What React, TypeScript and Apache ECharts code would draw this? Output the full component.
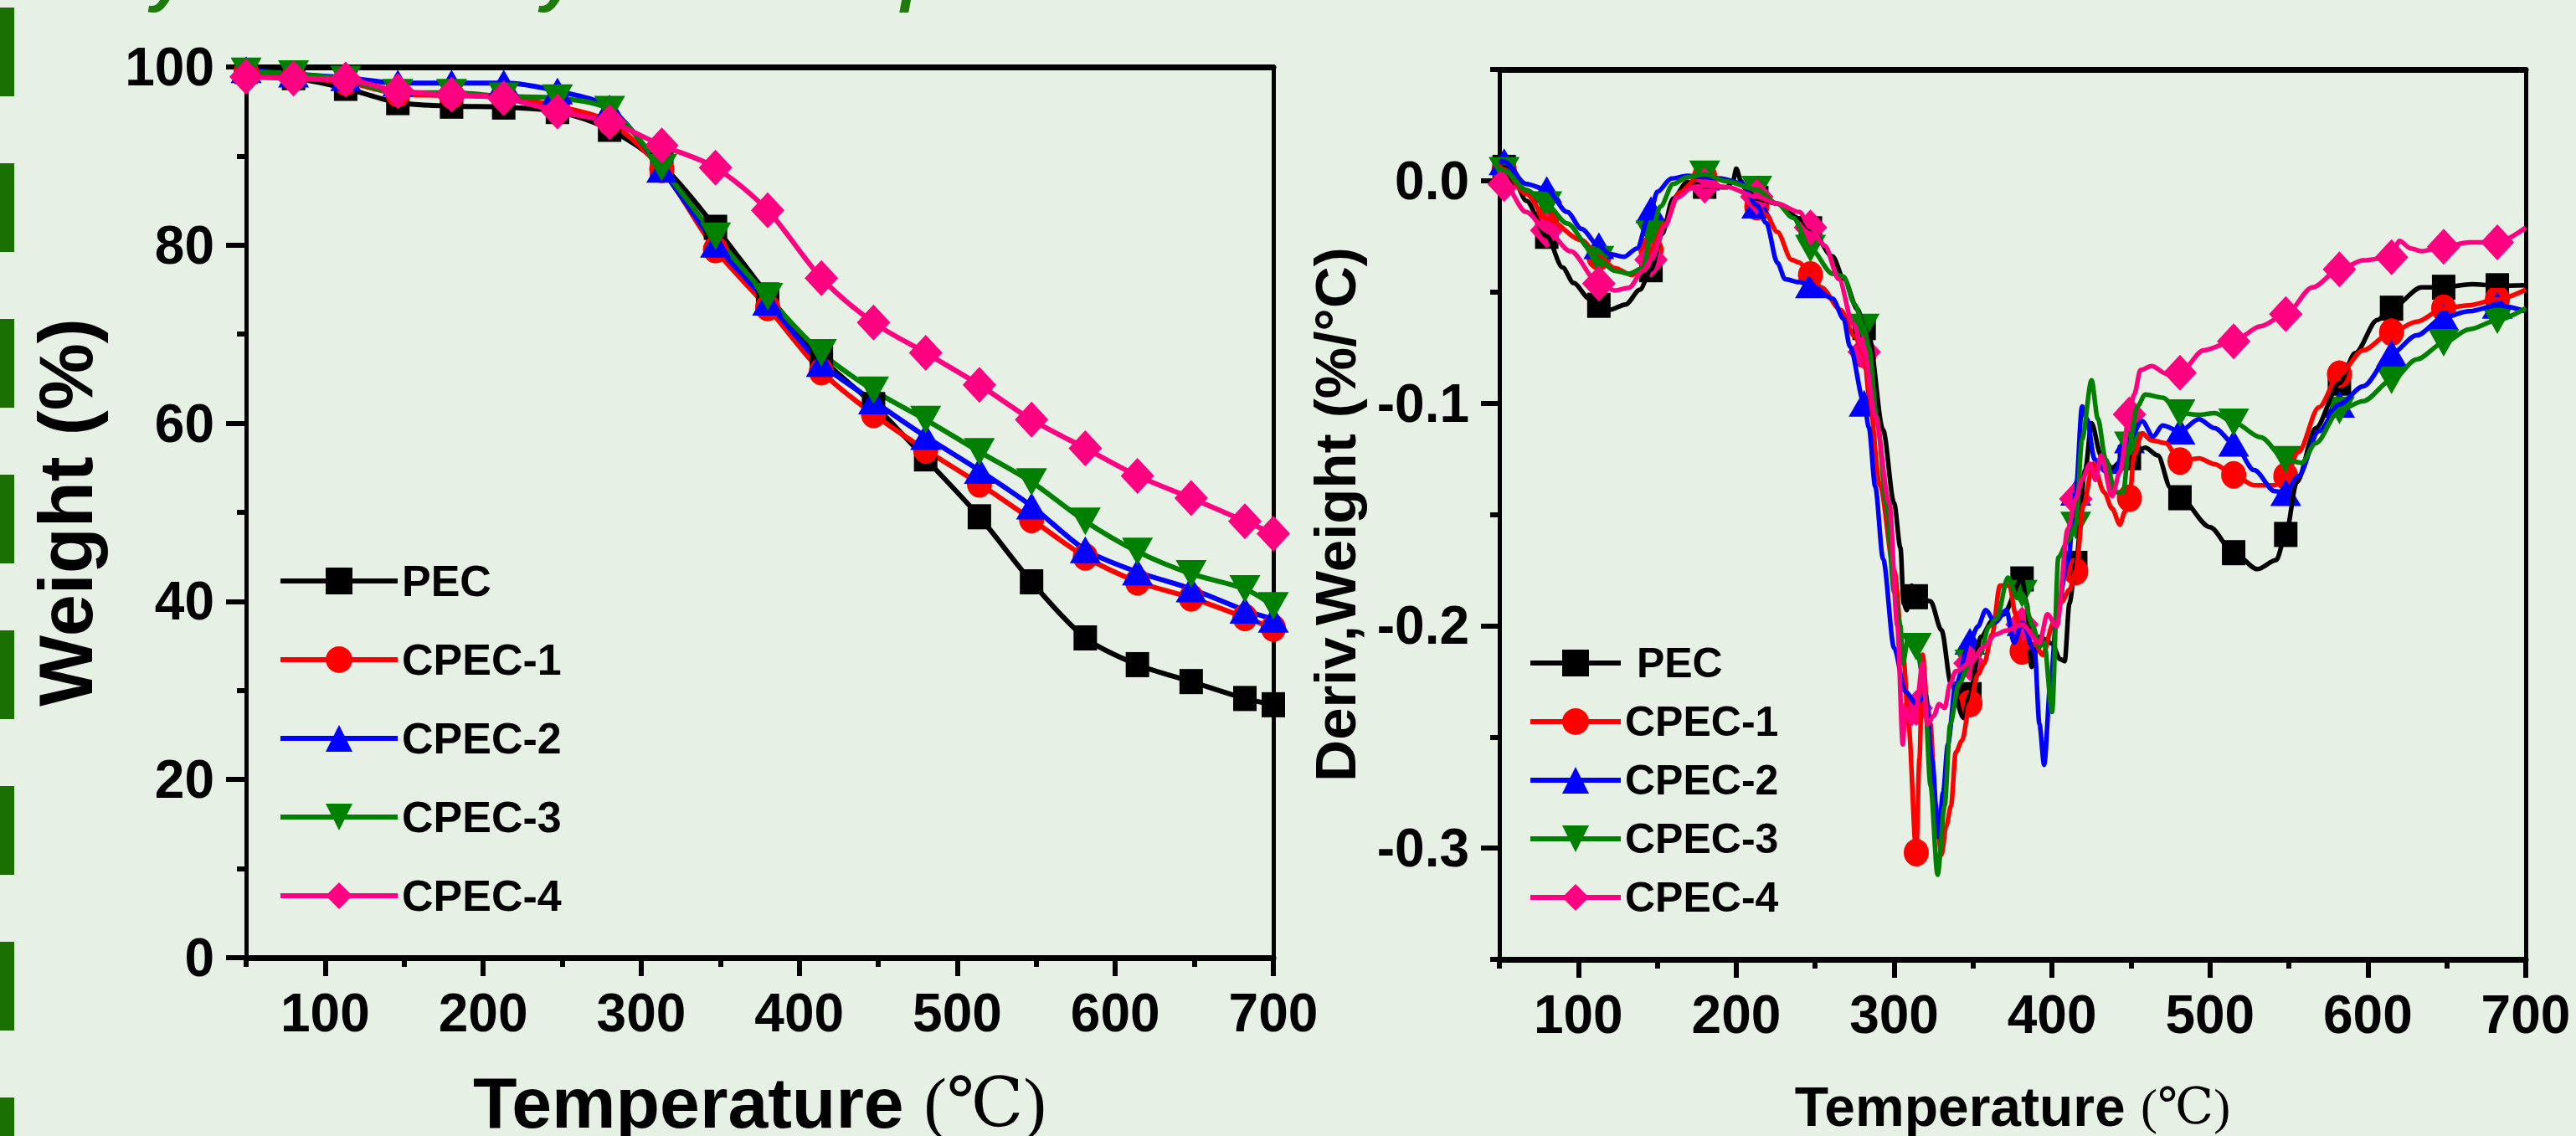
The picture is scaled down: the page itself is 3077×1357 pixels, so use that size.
import React, { useEffect, useRef } from "react";
import * as echarts from "echarts";

// ---------- data ----------
const seriesNames = ["PEC", "CPEC-1", "CPEC-2", "CPEC-3", "CPEC-4"];
const seriesColors = ["#000000", "#ff0000", "#0000ff", "#008000", "#ff0080"];

const xTickValues = [100, 200, 300, 400, 500, 600, 700];
const xMinorTickValues = [50, 150, 250, 350, 450, 550, 650];
const dtgTickValues = [0, -0.1, -0.2, -0.3];
const dtgMinorTickValues = [0.05, -0.05, -0.15, -0.25, -0.35];

// TGA (weight %) read at the marker temperatures
const tgaTemps = [50, 80, 113, 146, 180, 213, 247, 280, 313, 347, 380, 414, 447, 480, 514, 547, 581, 614, 648, 682, 700];
const tgaPEC = [99.5, 98.8, 97.6, 96.0, 95.6, 95.5, 95.0, 93.0, 89.0, 82.0, 74.4, 67.3, 62.1, 56.0, 49.5, 42.2, 35.9, 32.9, 31.0, 29.1, 28.4];
const tgaCPEC1 = [99.5, 98.8, 98.3, 97.0, 96.8, 96.6, 95.6, 93.8, 88.5, 79.5, 73.0, 65.8, 61.0, 57.0, 53.2, 49.2, 45.0, 42.2, 40.4, 38.2, 37.0];
const tgaCPEC2 = [99.7, 99.2, 98.8, 98.2, 98.2, 98.2, 97.3, 95.4, 88.5, 80.1, 73.6, 66.7, 62.5, 58.5, 54.7, 50.7, 45.8, 43.3, 41.4, 39.0, 38.0];
const tgaCPEC3 = [99.5, 99.2, 98.6, 97.1, 97.1, 96.7, 96.5, 95.2, 88.7, 81.0, 74.2, 67.9, 63.7, 60.4, 56.8, 53.4, 49.0, 45.6, 43.1, 41.4, 39.5];
const tgaCPEC4 = [98.9, 98.7, 98.6, 97.3, 96.9, 96.5, 95.0, 93.8, 91.2, 88.7, 83.9, 76.3, 71.3, 67.9, 64.3, 60.4, 57.2, 54.1, 51.6, 49.0, 47.6];

// DTG (%/°C) traces: [temperature, derivative]
const dtgMarkerTemps = [53, 80, 113, 146, 180, 213, 247, 281, 314, 348, 381, 415, 449, 481, 515, 548, 582, 615, 648, 682];

const dtgPEC = [
  [50, 0.007], [53, 0.006], [60, -0.001], [67, -0.009], [80, -0.025], [90, -0.039], [97, -0.046], [107, -0.053],
  [113, -0.056], [120, -0.058], [130, -0.0556], [139, -0.049], [146, -0.04], [153, -0.024], [160, -0.008],
  [169, -0.0005], [180, -0.0025], [194, -0.003], [198, 0.0], [200, 0.0054], [203, 0.0], [206, -0.004],
  [213, -0.008], [226, -0.0103], [240, -0.017], [247, -0.0216], [261, -0.034], [268, -0.044], [277, -0.058],
  [281, -0.066], [284, -0.07], [293, -0.112], [300, -0.145], [304, -0.165], [306, -0.19], [308, -0.193],
  [311, -0.182], [314, -0.187], [323, -0.189], [330, -0.202], [336, -0.226], [344, -0.2415], [348, -0.231],
  [355, -0.205], [362, -0.198], [369, -0.195], [381, -0.179], [384, -0.19], [387, -0.2186], [392, -0.205],
  [400, -0.208], [405, -0.215], [408, -0.216], [411, -0.19], [415, -0.172], [421, -0.13], [425, -0.109],
  [431, -0.1235], [438, -0.129], [444, -0.126], [449, -0.1245], [459, -0.12], [467, -0.1235], [475, -0.138],
  [481, -0.1425], [500, -0.1557], [515, -0.1672], [530, -0.1746], [542, -0.1705], [548, -0.159], [555, -0.1355],
  [567, -0.1112], [582, -0.091], [592, -0.0775], [606, -0.0626], [615, -0.0573], [634, -0.0479], [648, -0.0479],
  [666, -0.0465], [682, -0.0472], [700, -0.047],
];

const dtgCPEC1 = [
  [50, 0.007], [53, 0.005], [67, -0.006], [80, -0.017], [102, -0.0267], [113, -0.0342], [123, -0.0393],
  [134, -0.0424], [140, -0.04], [146, -0.031], [155, -0.0192], [164, -0.0053], [176, 0.0016], [180, 0.002],
  [190, 0.001], [203, -0.0015], [213, -0.0116], [219, -0.0154], [226, -0.023], [235, -0.0355], [240, -0.0368],
  [247, -0.0424], [254, -0.048], [266, -0.058], [275, -0.07], [281, -0.078], [284, -0.096], [291, -0.137],
  [300, -0.175], [306, -0.215], [309, -0.244], [314, -0.302], [316, -0.26], [318, -0.213], [321, -0.235],
  [323, -0.2443], [326, -0.28], [330, -0.303], [333, -0.29], [336, -0.281], [339, -0.257], [343, -0.2516],
  [348, -0.235], [353, -0.222], [357, -0.217], [362, -0.204], [367, -0.182], [373, -0.182], [377, -0.195],
  [381, -0.2114], [389, -0.208], [394, -0.2132], [401, -0.1986], [406, -0.1894], [411, -0.1839], [415, -0.1757],
  [420, -0.1455], [426, -0.1272], [433, -0.14], [438, -0.1473], [443, -0.1546], [446, -0.149], [449, -0.1427],
  [452, -0.1235], [457, -0.1135], [463, -0.1167], [472, -0.118], [481, -0.126], [493, -0.1248], [503, -0.1274],
  [515, -0.1322], [528, -0.1369], [541, -0.1369], [548, -0.1328], [556, -0.122], [569, -0.1018], [582, -0.087],
  [597, -0.0762], [615, -0.0681], [631, -0.0634], [648, -0.0573], [664, -0.056], [682, -0.0533], [700, -0.049],
];

const dtgCPEC2 = [
  [50, 0.009], [53, 0.0085], [67, -0.0015], [80, -0.004], [93, -0.0141], [102, -0.0217], [113, -0.0292],
  [120, -0.033], [129, -0.0342], [137, -0.0305], [146, -0.013], [150, -0.005], [159, 0.001], [169, 0.0022],
  [180, 0.0016], [190, 0.001], [203, -0.001], [213, -0.011], [219, -0.019], [226, -0.0368], [231, -0.0443],
  [240, -0.0456], [247, -0.0468], [261, -0.053], [268, -0.062], [272, -0.0745], [281, -0.1], [284, -0.111],
  [288, -0.1374], [293, -0.17], [300, -0.21], [307, -0.2296], [314, -0.235], [320, -0.231], [324, -0.26],
  [328, -0.295], [331, -0.275], [334, -0.2534], [339, -0.226], [348, -0.207], [353, -0.2004], [358, -0.193],
  [364, -0.1986], [371, -0.193], [376, -0.2077], [381, -0.1986], [389, -0.2114], [392, -0.2443], [395, -0.2626],
  [399, -0.226], [403, -0.1949], [410, -0.171], [415, -0.14], [419, -0.1015], [422, -0.107], [427, -0.1253],
  [434, -0.1308], [440, -0.1308], [445, -0.1217], [449, -0.1165], [457, -0.108], [464, -0.115], [470, -0.11],
  [481, -0.1126], [493, -0.1072], [503, -0.1112], [515, -0.118], [528, -0.1301], [541, -0.1396], [548, -0.1402],
  [556, -0.1328], [569, -0.1126], [582, -0.1005], [597, -0.0924], [615, -0.0776], [631, -0.0695], [648, -0.0614],
  [664, -0.0587], [682, -0.056], [700, -0.0587],
];

const dtgCPEC3 = [
  [50, 0.006], [53, 0.0045], [67, -0.0041], [80, -0.011], [93, -0.0192], [108, -0.031], [113, -0.0355],
  [123, -0.0405], [132, -0.0418], [141, -0.0393], [146, -0.024], [152, -0.0116], [160, -0.0015], [169, 0.0016],
  [180, 0.0029], [194, -0.0003], [213, -0.004], [226, -0.0103], [236, -0.0167], [247, -0.0305], [261, -0.0418],
  [268, -0.0431], [275, -0.0556], [281, -0.066], [284, -0.075], [289, -0.1059], [295, -0.145], [300, -0.185],
  [304, -0.2], [305.5, -0.217], [309, -0.205], [314, -0.2095], [319, -0.226], [323, -0.2717], [327.5, -0.312],
  [332, -0.281], [335.5, -0.2443], [341, -0.226], [348, -0.217], [355, -0.2114], [360, -0.2004], [365, -0.1967],
  [372, -0.1784], [378, -0.1876], [381, -0.1857], [388, -0.2004], [392, -0.2095], [395, -0.2077], [400, -0.2388],
  [404, -0.1693], [410, -0.162], [415, -0.155], [419, -0.1162], [425, -0.0897], [429, -0.107], [434, -0.1253],
  [440, -0.14], [445, -0.14], [449, -0.119], [454, -0.1015], [459, -0.0961], [470, -0.0975], [481, -0.1045],
  [493, -0.1052], [503, -0.1045], [515, -0.1086], [532, -0.1153], [548, -0.1254], [558, -0.1268], [567, -0.118],
  [582, -0.1032], [597, -0.0991], [615, -0.0897], [631, -0.0803], [648, -0.0729], [664, -0.0668], [682, -0.0627],
  [700, -0.0573],
];

const dtgCPEC4 = [
  [50, 0.001], [53, -0.0015], [67, -0.0141], [80, -0.0223], [95, -0.0317], [113, -0.0462], [123, -0.0493],
  [132, -0.0481], [141, -0.0405], [146, -0.0355], [155, -0.0204], [162, -0.0078], [173, -0.0028], [180, -0.0022],
  [194, -0.0028], [213, -0.0072], [226, -0.0103], [240, -0.0141], [247, -0.021], [256, -0.0292], [265, -0.0443],
  [274, -0.0644], [281, -0.077], [288, -0.1059], [297, -0.145], [302, -0.2], [305.5, -0.2534], [307, -0.237],
  [311, -0.244], [314, -0.237], [318, -0.217], [321, -0.2443], [325, -0.2406], [328.5, -0.2352], [332, -0.237],
  [335.5, -0.226], [339, -0.2205], [348, -0.2169], [357, -0.2095], [364, -0.204], [371, -0.2022], [381, -0.1995],
  [392, -0.2077], [397, -0.1949], [403, -0.2004], [410, -0.1565], [415, -0.143], [419, -0.1345], [424, -0.1272],
  [427.5, -0.1345], [431, -0.1235], [438, -0.1418], [443, -0.1308], [449, -0.105], [452, -0.0961], [456, -0.0851],
  [463, -0.0833], [473, -0.087], [481, -0.0863], [496, -0.0762], [515, -0.0722], [532, -0.0654], [548, -0.06],
  [565, -0.0479], [582, -0.0398], [597, -0.0358], [615, -0.0344], [620, -0.027], [627, -0.0304], [634, -0.0317],
  [648, -0.0297], [664, -0.0277], [682, -0.0277], [700, -0.021],
];

const tgaValues = [tgaPEC, tgaCPEC1, tgaCPEC2, tgaCPEC3, tgaCPEC4];
const dtgValues = [dtgPEC, dtgCPEC1, dtgCPEC2, dtgCPEC3, dtgCPEC4];

// ---------- styles ----------
const BG = "#e6f0e4";
const FONT = "'Liberation Sans', Arial, sans-serif";
const SERIF = "'Liberation Serif', 'DejaVu Serif', serif";
const symbols = ["rect", "circle", "triangle", "path://M0,0L10,0L5,9Z", "diamond"];
const symbolSizes = [[28, 30], [30, 33], [37, 32], [37, 33], [40, 43]];

const axisLineH = { show: true, onZero: false, lineStyle: { color: "#000", width: 7 } };
const axisLineV = { show: true, onZero: false, lineStyle: { color: "#000", width: 5 } };
const tickLabel = { color: "#000", fontFamily: FONT, fontWeight: "bold" as const, fontSize: 64 };

function buildOption() {
  const xAxes: any[] = [];
  const yAxes: any[] = [];
  const xNames = [
    { gap: 130, a: 86, b: 82 },
    { gap: 143, a: 66, b: 60 },
  ];
  [0, 1].forEach((g) => {
    const n = xNames[g];
    xAxes.push({
      type: "value", gridIndex: g, min: 50, max: 700, position: "bottom",
      axisLine: axisLineH,
      axisTick: { show: true, customValues: xTickValues, length: 22, lineStyle: { color: "#000", width: 6 } },
      axisLabel: { ...tickLabel, customValues: xTickValues, margin: 34 },
      splitLine: { show: false },
      name: "{a|Temperature }{b|(℃)}",
      nameLocation: "middle",
      nameGap: n.gap,
      nameMoveOverlap: false,
      nameTextStyle: {
        rich: {
          a: { fontFamily: FONT, fontWeight: "bold", fontSize: n.a, color: "#000" },
          b: { fontFamily: SERIF, fontWeight: "normal", fontSize: n.b, color: "#000" },
        },
      },
    });
    xAxes.push({
      type: "value", gridIndex: g, min: 50, max: 700, position: "bottom",
      axisLine: { show: false, onZero: false },
      axisTick: { show: true, customValues: xMinorTickValues, length: 11, lineStyle: { color: "#000", width: 6 } },
      axisLabel: { show: false },
      splitLine: { show: false },
    });
    xAxes.push({
      type: "value", gridIndex: g, min: 50, max: 700, position: "top",
      axisLine: axisLineH, axisTick: { show: false }, axisLabel: { show: false }, splitLine: { show: false },
    });
  });

  // left y (weight)
  yAxes.push({
    type: "value", gridIndex: 0, min: 0, max: 100, interval: 20, position: "left",
    axisLine: axisLineV,
    axisTick: { show: true, length: 24, lineStyle: { color: "#000", width: 6 } },
    minorTick: { show: true, splitNumber: 2, length: 11, lineStyle: { color: "#000", width: 6 } },
    axisLabel: { ...tickLabel, margin: 38 },
    splitLine: { show: false }, minorSplitLine: { show: false },
    name: "Weight (%)", nameLocation: "middle", nameGap: 170, nameMoveOverlap: false,
    nameTextStyle: { fontFamily: FONT, fontWeight: "bold", fontSize: 90, color: "#000" },
  });
  yAxes.push({
    type: "value", gridIndex: 0, min: 0, max: 100, position: "right",
    axisLine: axisLineV, axisTick: { show: false }, axisLabel: { show: false }, splitLine: { show: false },
  });
  // right y (derivative)
  yAxes.push({
    type: "value", gridIndex: 1, min: -0.35, max: 0.05, position: "left",
    axisLine: axisLineV,
    axisTick: { show: true, customValues: dtgTickValues, length: 22, lineStyle: { color: "#000", width: 6 } },
    axisLabel: { ...tickLabel, customValues: dtgTickValues, margin: 36, formatter: (v: number) => v.toFixed(1) },
    splitLine: { show: false },
    name: "Deriv,Weight (%/°C)", nameLocation: "middle", nameGap: 161, nameMoveOverlap: false,
    nameTextStyle: { fontFamily: FONT, fontWeight: "bold", fontSize: 69, color: "#000" },
  });
  yAxes.push({
    type: "value", gridIndex: 1, min: -0.35, max: 0.05, position: "left",
    axisLine: { show: false, onZero: false },
    axisTick: { show: true, customValues: dtgMinorTickValues, length: 11, lineStyle: { color: "#000", width: 6 } },
    axisLabel: { show: false }, splitLine: { show: false },
  });
  yAxes.push({
    type: "value", gridIndex: 1, min: -0.35, max: 0.05, position: "right",
    axisLine: axisLineV, axisTick: { show: false }, axisLabel: { show: false }, splitLine: { show: false },
  });

  const series: any[] = [];
  seriesNames.forEach((name, i) => {
    series.push({
      type: "line", name, xAxisIndex: 0, yAxisIndex: 0,
      data: tgaTemps.map((t, j) => [t, tgaValues[i][j]]),
      smooth: 0.3, symbol: symbols[i], symbolSize: symbolSizes[i], showSymbol: true,
      color: seriesColors[i], itemStyle: { color: seriesColors[i] },
      lineStyle: { color: seriesColors[i], width: 6 }, silent: true,
    });
  });
  seriesNames.forEach((name, i) => {
    series.push({
      type: "line", name, xAxisIndex: 3, yAxisIndex: 2,
      data: dtgValues[i], smooth: 0.3, smoothMonotone: "x",
      symbol: symbols[i], showSymbol: false,
      color: seriesColors[i], itemStyle: { color: seriesColors[i] },
      lineStyle: { color: seriesColors[i], width: 5.5 }, silent: true,
    });
    series.push({
      type: "scatter", name, xAxisIndex: 3, yAxisIndex: 2,
      data: dtgValues[i].filter((p) => dtgMarkerTemps.includes(p[0])),
      symbol: symbols[i], symbolSize: symbolSizes[i],
      itemStyle: { color: seriesColors[i], opacity: 1 }, silent: true,
    });
  });

  const legendText = (size: number) => ({
    fontFamily: FONT, fontWeight: "bold", fontSize: size, color: "#000", lineHeight: size + 2,
  });
  const legendData = seriesNames.map((name, i) => ({
    name,
    lineStyle: { width: 6, color: seriesColors[i] },
  }));

  return {
    animation: false,
    backgroundColor: BG,
    textStyle: { fontFamily: FONT },
    grid: [
      { left: 294, top: 80, width: 1227, height: 1064, containLabel: false, outerBoundsMode: "none" },
      { left: 1791, top: 83, width: 1226, height: 1063, containLabel: false, outerBoundsMode: "none" },
    ],
    xAxis: xAxes,
    yAxis: yAxes,
    legend: [
      {
        data: legendData, orient: "vertical", left: 332, top: 667, padding: 0,
        itemWidth: 140, itemHeight: 40, itemGap: 40, selectedMode: false,
        lineStyle: { width: 6 },
        textStyle: legendText(52),
      },
      {
        data: legendData, orient: "vertical", left: 1825, top: 766, padding: 0,
        itemWidth: 108, itemHeight: 40, itemGap: 18, selectedMode: false,
        lineStyle: { width: 6 },
        formatter: (n: string) => (n === "PEC" ? " PEC" : n),
        textStyle: legendText(50),
      },
    ],
    graphic: [
      {
        type: "line", silent: true,
        shape: { x1: 8.5, y1: 9, x2: 8.5, y2: 1357 },
        style: { stroke: "#1b7003", lineWidth: 17, lineDash: [106, 80] },
      },
      ...[
        { ch: "y", x: 180 },
        { ch: "y", x: 646 },
        { ch: "p", x: 1076 },
      ].map((t) => ({
        type: "text", silent: true, x: t.x, y: -30,
        style: {
          text: t.ch, fill: "#1e7b0a", fontFamily: FONT, fontStyle: "italic", fontWeight: "bold",
          fontSize: 80, align: "left", verticalAlign: "middle",
        },
      })),
    ],
    series,
  };
}

export default function App() {
  const ref = useRef<HTMLDivElement>(null);
  useEffect(() => {
    if (!ref.current) return;
    const chart = echarts.init(ref.current, null, { renderer: "svg" });
    chart.setOption(buildOption() as any);
    return () => chart.dispose();
  }, []);
  return (
    <div
      ref={ref}
      style={{ position: "absolute", left: 0, top: 0, width: 3077, height: 1357, background: BG }}
    />
  );
}
